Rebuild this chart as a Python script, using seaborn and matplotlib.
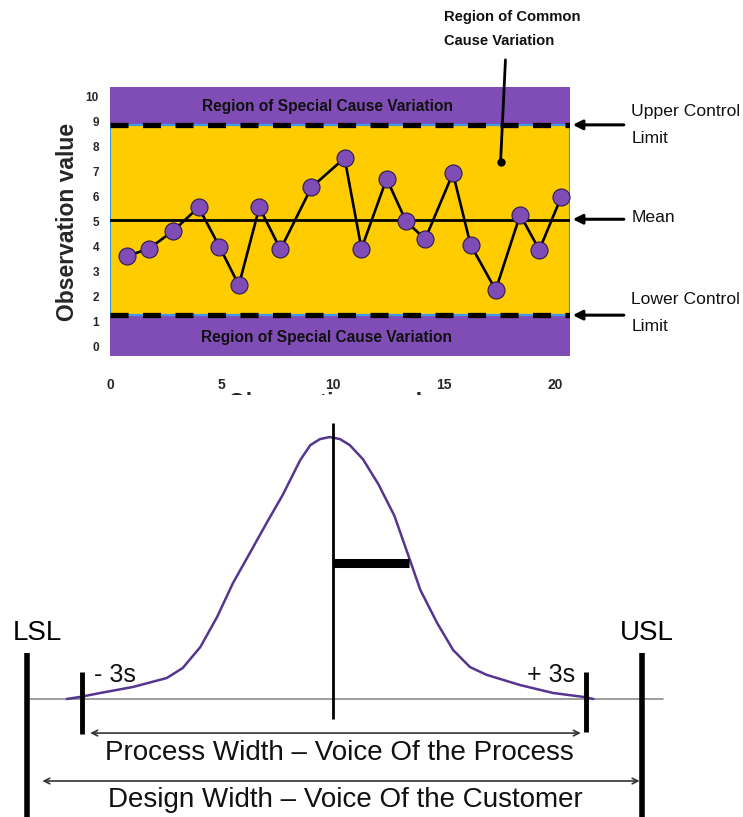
import matplotlib
matplotlib.use('Agg')
import matplotlib.pyplot as plt
import seaborn as sns

# ---- control chart data ----
obs_x = [0.77, 1.75, 2.85, 3.98, 4.92, 5.79, 6.71, 7.66, 9.05, 10.54,
         11.30, 12.43, 13.30, 14.16, 15.41, 16.20, 17.33, 18.43, 19.29, 20.27]
obs_y = [3.61, 3.91, 4.63, 5.57, 3.99, 2.44, 5.57, 3.88, 6.37, 7.55,
         3.91, 6.72, 5.01, 4.29, 6.94, 4.07, 2.25, 5.27, 3.86, 5.97]
mean_val = 5.08
ucl = 8.88
lcl = 1.24
x_ticks = [0, 5, 10, 15, 20]
y_ticks = [0, 1, 2, 3, 4, 5, 6, 7, 8, 9, 10]

# ---- process curve (x in sigma, y relative to peak) ----
curve_x = [-3.17, -3.01, -2.77, -2.38, -1.98, -1.79, -1.58, -1.38, -1.19, -0.99,
           -0.79, -0.60, -0.39, -0.27, -0.155, -0.036, 0.083, 0.20, 0.357, 0.54,
           0.73, 0.90, 1.04, 1.24, 1.43, 1.63, 1.83, 2.23, 2.62, 2.98, 3.10]
curve_y = [0.0, 0.008, 0.023, 0.046, 0.080, 0.118, 0.198, 0.313, 0.443, 0.557,
           0.672, 0.778, 0.912, 0.969, 0.992, 1.0, 0.992, 0.969, 0.915, 0.82,
           0.70, 0.545, 0.416, 0.290, 0.187, 0.122, 0.092, 0.053, 0.023, 0.008, 0.0]
lsl, usl = -3.64, 3.68
minus3, plus3 = -2.99, 3.01
sigma_bar = 0.9

purple = '#7f4db5'
yellow = '#ffcc00'
curve_col = '#55358f'

sns.set_style('white')
plt.rcParams['font.family'] = ['Liberation Sans', 'DejaVu Sans']
plt.rcParams['lines.scale_dashes'] = False

fig = plt.figure(figsize=(7.43, 8.17), dpi=100)
fig.patch.set_facecolor('white')

# ================= top: control chart =================
ax = fig.add_axes([110 / 743, 1 - 356 / 817, 460 / 743, 269 / 817])
ax.set_xlim(0.11, 20.67)
ax.set_ylim(-0.40, 10.40)

ax.axhspan(ucl, 10.40, color=purple, lw=0, zorder=0)
ax.axhspan(-0.40, lcl, color=purple, lw=0, zorder=0)
ax.axhspan(lcl, ucl, facecolor=yellow, edgecolor='#3d9be9', lw=1.6, zorder=0.5)

ax.axhline(ucl, color='black', lw=3.8, dashes=(13, 10.4), zorder=2)
ax.axhline(lcl, color='black', lw=3.8, dashes=(13, 10.4), zorder=2)
ax.axhline(mean_val, color='black', lw=2, zorder=2)

sns.lineplot(x=obs_x, y=obs_y, sort=False, color='black', lw=1.9, ax=ax, zorder=3)
sns.scatterplot(x=obs_x, y=obs_y, s=150, color=purple, edgecolor='#2d1a4d',
                linewidth=0.8, ax=ax, zorder=4)

ax.text(9.76, 9.62, 'Region of Special Cause Variation', ha='center', va='center',
        weight='bold', fontsize=11.2, color='#111111')
ax.text(9.72, 0.34, 'Region of Special Cause Variation', ha='center', va='center',
        weight='bold', fontsize=11.2, color='#111111')

for s in ax.spines.values():
    s.set_visible(False)
ax.set_xticks(x_ticks)
ax.set_yticks(y_ticks)
ax.tick_params(axis='x', length=0, pad=16)
ax.tick_params(axis='y', length=0, pad=8)
for lbl in ax.get_xticklabels():
    lbl.set_fontsize(10)
    lbl.set_weight('bold')
for lbl in ax.get_yticklabels():
    lbl.set_fontsize(8.5)
    lbl.set_weight('bold')

ax.set_ylabel('Observation value', fontsize=16.5, weight='bold')
ax.yaxis.set_label_coords(-0.067, 0.5)
ax.set_xlabel('Observation number', fontsize=16.5, weight='bold', va='top')
ax.xaxis.set_label_coords(0.5, -0.132)

# right hand callouts
tr = ax.get_yaxis_transform()
for y_arrow in [ucl, 5.09, lcl]:
    ax.annotate('', xy=(1.006, y_arrow), xytext=(1.117, y_arrow), xycoords=tr,
                textcoords=tr, annotation_clip=False,
                arrowprops=dict(arrowstyle='-|>', color='black', lw=2.2,
                                mutation_scale=14, shrinkA=0, shrinkB=0))
callouts = [(9.41, 'Upper Control'), (8.34, 'Limit'), (5.17, 'Mean'),
            (1.85, 'Lower Control'), (0.78, 'Limit')]
for y_txt, txt in callouts:
    ax.text(1.133, y_txt, txt, transform=tr, ha='left', va='center',
            fontsize=12.6, color='#111111')

# common cause callout
ax.text(14.99, 13.2, 'Region of Common', ha='left', va='center',
        fontsize=10.6, weight='bold', color='#111111')
ax.text(14.99, 12.25, 'Cause Variation', ha='left', va='center',
        fontsize=10.6, weight='bold', color='#111111')
ax.plot([17.77, 17.55], [11.49, 7.39], color='black', lw=2, clip_on=False, zorder=5)
ax.plot([17.55], [7.39], 'o', color='black', ms=5, clip_on=False, zorder=5)

# ================= bottom: process vs specification =================
ax2 = fig.add_axes([0, 0, 1, 422 / 817])
ax2.set_zorder(2)  # covers the lower part of the top x label
ax2.set_facecolor('white')
ax2.set_xlim(-333 / 84, 410 / 84)
ax2.set_ylim(-118 / 262, 304 / 262)
ax2.set_xticks([])
ax2.set_yticks([])
for s in ax2.spines.values():
    s.set_visible(False)

ax2.axhline(0, xmin=29 / 743, xmax=663 / 743, color='#8c8c8c', lw=1.2, zorder=1)
sns.lineplot(x=curve_x, y=curve_y, sort=False, color=curve_col, lw=1.8, ax=ax2, zorder=3)
ax2.vlines(0, -0.076, 1.053, color='black', lw=2, zorder=4)
ax2.hlines(0.52, 0, sigma_bar, color='black', lw=6.5, zorder=4)
ax2.vlines([minus3, plus3], [-0.134, -0.126], [0.103, 0.103], color='black', lw=3.5, zorder=4)
ax2.vlines([lsl, usl], -0.46, 0.176, color='black', lw=4, zorder=4)

ax2.annotate('', xy=(-2.89, -0.130), xytext=(2.95, -0.130),
             arrowprops=dict(arrowstyle='<->', color='#333333', lw=1.2,
                             mutation_scale=10, shrinkA=0, shrinkB=0))
ax2.annotate('', xy=(-3.46, -0.313), xytext=(3.65, -0.313),
             arrowprops=dict(arrowstyle='<->', color='#333333', lw=1.2,
                             mutation_scale=10, shrinkA=0, shrinkB=0))

ax2.text(0.07, -0.206, 'Process Width \u2013 Voice Of the Process', ha='center',
         va='center', fontsize=20, color='#111111')
ax2.text(0.15, -0.386, 'Design Width \u2013 Voice Of the Customer', ha='center',
         va='center', fontsize=20, color='#111111')
ax2.text(-3.52, 0.25, 'LSL', ha='center', va='center', fontsize=20, color='black')
ax2.text(3.73, 0.25, 'USL', ha='center', va='center', fontsize=20, color='black')
ax2.text(-2.85, 0.092, '- 3s', ha='left', va='center', fontsize=18, color='#111111')
ax2.text(2.88, 0.092, '+ 3s', ha='right', va='center', fontsize=18, color='#111111')

fig.savefig('out.png', dpi=100, facecolor='white')
